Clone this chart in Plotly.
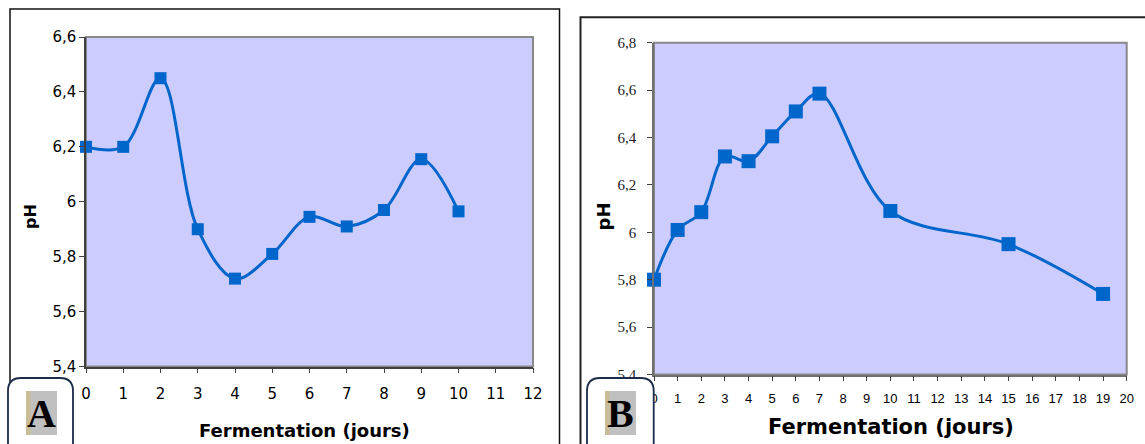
import plotly.graph_objects as go

# --- data -------------------------------------------------------------
days_a = [0, 1, 2, 3, 4, 5, 6, 7, 8, 9, 10]
ph_a = [6.20, 6.20, 6.45, 5.90, 5.72, 5.81, 5.945, 5.91, 5.97, 6.155, 5.965]

days_b = [0, 1, 2, 3, 4, 5, 6, 7, 10, 15, 19]
ph_b = [5.80, 6.01, 6.085, 6.32, 6.30, 6.405, 6.51, 6.585, 6.09, 5.95, 5.74]

xticks_a = list(range(0, 13))
yticks_a = [5.4, 5.6, 5.8, 6.0, 6.2, 6.4, 6.6]
ylabels_a = ["5,4", "5,6", "5,8", "6", "6,2", "6,4", "6,6"]

xticks_b = list(range(0, 21))
yticks_b = [5.4, 5.6, 5.8, 6.0, 6.2, 6.4, 6.6, 6.8]
ylabels_b = ["5,4", "5,6", "5,8", "6", "6,2", "6,4", "6,6", "6,8"]

x_title = "Fermentation (jours)"
y_title = "pH"
panel_letters = ["A", "B"]

# --- page geometry (pixels -> paper) ----------------------------------
W, H = 1145, 444


def fx(p):
    return p / W


def fy(p):
    return 1 - p / H


BLUE = "#0066CC"
PLOT_BG = "#CCCCFF"

fig = go.Figure()

fig.add_trace(go.Scatter(
    x=days_a, y=ph_a, xaxis="x", yaxis="y", mode="lines+markers",
    line=dict(color=BLUE, width=3, shape="spline", smoothing=1.0),
    marker=dict(symbol="square", size=12, color=BLUE),
    cliponaxis=False, showlegend=False,
))
fig.add_trace(go.Scatter(
    x=days_b, y=ph_b, xaxis="x2", yaxis="y2", mode="lines+markers",
    line=dict(color=BLUE, width=3, shape="spline", smoothing=1.0),
    marker=dict(symbol="square", size=14, color=BLUE),
    cliponaxis=False, showlegend=False,
))

sans = "DejaVu Sans"
axis_common = dict(showgrid=False, zeroline=False, showline=True,
                   ticks="outside", ticklen=5, tickwidth=1, automargin=False)

fig.update_layout(
    template="none",
    width=W, height=H, autosize=False,
    margin=dict(l=0, r=0, t=0, b=0, pad=0, autoexpand=False),
    paper_bgcolor="white",
    plot_bgcolor="rgba(0,0,0,0)",
    xaxis=dict(domain=[fx(86), fx(533)], range=[0, 12], anchor="y",
               tickvals=xticks_a, ticktext=[str(v) for v in xticks_a],
               linecolor="#404040", linewidth=1.5, tickcolor="#404040",
               tickfont=dict(family=sans, size=15, color="black"),
               ticklabelstandoff=8, **axis_common),
    yaxis=dict(domain=[fy(366.5), fy(37)], range=[5.4, 6.6], anchor="x",
               tickvals=yticks_a, ticktext=ylabels_a,
               linecolor="#404040", linewidth=1.5, tickcolor="#404040",
               tickfont=dict(family=sans, size=15, color="black"),
               ticklabelstandoff=0, **axis_common),
    xaxis2=dict(domain=[fx(654), fx(1126.7)], range=[0, 20], anchor="y2",
                tickvals=xticks_b, ticktext=[str(v) for v in xticks_b],
                linecolor="#707070", linewidth=1.5, tickcolor="#404040",
                tickfont=dict(family="Liberation Sans", size=13, color="black"),
                ticklabelstandoff=6, **axis_common),
    yaxis2=dict(domain=[fy(374.5), fy(42.7)], range=[5.4, 6.8], anchor="x2",
                tickvals=yticks_b, ticktext=ylabels_b,
                linecolor="#707070", linewidth=1.5, tickcolor="#404040",
                tickfont=dict(family="Liberation Serif", size=15, color="#222"),
                ticklabelstandoff=8, **axis_common),
)

shapes = []
# plot areas: lavender fill with grey border
for xa, ya in (("x", "y"), ("x2", "y2")):
    shapes.append(dict(type="rect", xref=f"{xa} domain", yref=f"{ya} domain",
                       x0=0, x1=1, y0=0, y1=1, fillcolor=PLOT_BG,
                       line=dict(color="#888888", width=2), layer="below"))

# outer panel frames
shapes.append(dict(type="rect", xref="paper", yref="paper",
                   x0=fx(10), x1=fx(559.5), y0=fy(470), y1=fy(9),
                   line=dict(color="#111111", width=1.5), layer="below"))
shapes.append(dict(type="rect", xref="paper", yref="paper",
                   x0=fx(580.5), x1=fx(1170), y0=fy(470), y1=fy(17.3),
                   line=dict(color="#222222", width=2), layer="below"))


def rounded_tab(x0, x1, y_top, y_bot, r):
    """Path for a box whose top corners are rounded (paper coordinates)."""
    X0, X1 = fx(x0), fx(x1)
    Yt, Yb = fy(y_top), fy(y_bot)
    rx, ry = r / W, r / H
    return (f"M{X0},{Yb} L{X0},{Yt - ry} Q{X0},{Yt} {X0 + rx},{Yt} "
            f"L{X1 - rx},{Yt} Q{X1},{Yt} {X1},{Yt - ry} L{X1},{Yb} Z")


boxes = [  # (box left, box right, inner left, inner right, letter centre x)
    (8, 73, 26, 57, 41.5),
    (587, 653.7, 605, 636, 620.5),
]
annotations = []
for (bx0, bx1, ix0, ix1, lx), letter in zip(boxes, panel_letters):
    shapes.append(dict(type="path", xref="paper", yref="paper",
                       path=rounded_tab(bx0, bx1, 378, 470, 13),
                       fillcolor="white", line=dict(color="#1C2B4A", width=1.8),
                       layer="above"))
    shapes.append(dict(type="rect", xref="paper", yref="paper",
                       x0=fx(ix0), x1=fx(ix1), y0=fy(435), y1=fy(391),
                       fillcolor="#C0C0C0", line=dict(width=0), layer="above"))
    shapes.append(dict(type="rect", xref="paper", yref="paper",
                       x0=fx(ix0), x1=fx(ix0 + 4.5), y0=fy(435), y1=fy(391),
                       fillcolor="#C9BD96", line=dict(width=0), layer="above"))
    annotations.append(dict(xref="paper", yref="paper", x=fx(lx), y=fy(413),
                            text=f"<b>{letter}</b>", showarrow=False,
                            xanchor="center", yanchor="middle",
                            font=dict(family="Liberation Serif", size=40,
                                      color="black")))

# axis titles
annotations += [
    dict(xref="paper", yref="paper", x=fx(304), y=fy(430), text=f"<b>{x_title}</b>",
         showarrow=False, xanchor="center", yanchor="middle",
         font=dict(family=sans, size=18, color="black")),
    dict(xref="paper", yref="paper", x=fx(890.5), y=fy(427), text=f"<b>{x_title}</b>",
         showarrow=False, xanchor="center", yanchor="middle",
         font=dict(family=sans, size=21, color="black")),
    dict(xref="paper", yref="paper", x=fx(30), y=fy(217), text=f"<b>{y_title}</b>",
         showarrow=False, xanchor="center", yanchor="middle", textangle=-90,
         font=dict(family=sans, size=16, color="black")),
    dict(xref="paper", yref="paper", x=fx(602.5), y=fy(216), text=f"<b>{y_title}</b>",
         showarrow=False, xanchor="center", yanchor="middle", textangle=-90,
         font=dict(family=sans, size=18, color="black")),
]

fig.update_layout(shapes=shapes, annotations=annotations)

fig.write_html(
    "out.html",
    post_script="document.body.style.margin='0';document.body.style.overflow='hidden';",
)
